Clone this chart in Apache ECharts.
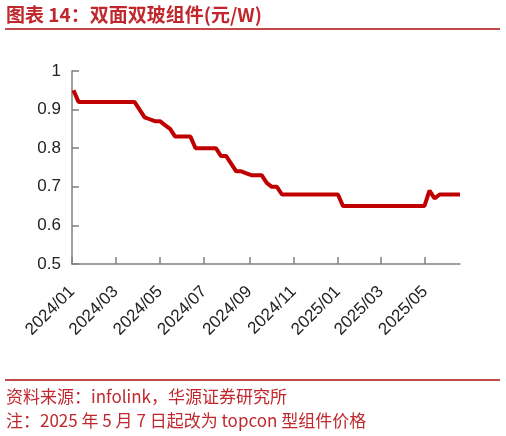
<!DOCTYPE html>
<html>
<head>
<meta charset="utf-8">
<script src="https://cdn.jsdelivr.net/npm/echarts@6/dist/echarts.min.js"></script>
<style>
  html, body { margin: 0; padding: 0; background: #fff; }
  #chart { width: 506px; height: 436px; }
</style>
</head>
<body>
<div id="chart"></div>
<script>
// 周度报价日期
const weekDates = [
  '2024-01-03', '2024-01-10', '2024-01-17', '2024-01-24', '2024-01-31',
  '2024-02-07', '2024-02-14', '2024-02-21', '2024-02-28',
  '2024-03-06', '2024-03-13', '2024-03-20', '2024-03-27',
  '2024-04-03', '2024-04-10', '2024-04-17', '2024-04-24',
  '2024-05-01', '2024-05-08', '2024-05-15', '2024-05-22', '2024-05-29',
  '2024-06-05', '2024-06-12', '2024-06-19', '2024-06-26',
  '2024-07-03', '2024-07-10', '2024-07-17', '2024-07-24', '2024-07-31',
  '2024-08-07', '2024-08-14', '2024-08-21', '2024-08-28',
  '2024-09-04', '2024-09-11', '2024-09-18', '2024-09-25',
  '2024-10-02', '2024-10-09', '2024-10-16', '2024-10-23', '2024-10-30',
  '2024-11-06', '2024-11-13', '2024-11-20', '2024-11-27',
  '2024-12-04', '2024-12-11', '2024-12-18', '2024-12-25',
  '2025-01-01', '2025-01-08', '2025-01-15', '2025-01-22', '2025-01-29',
  '2025-02-05', '2025-02-12', '2025-02-19', '2025-02-26',
  '2025-03-05', '2025-03-12', '2025-03-19', '2025-03-26',
  '2025-04-02', '2025-04-09', '2025-04-16', '2025-04-23', '2025-04-30',
  '2025-05-07', '2025-05-14', '2025-05-21', '2025-05-28',
  '2025-06-04', '2025-06-11', '2025-06-18'
]

// 双面双玻组件价格（元/W）
const prices = [
  0.95, 0.92, 0.92, 0.92, 0.92,
  0.92, 0.92, 0.92, 0.92,
  0.92, 0.92, 0.92, 0.92,
  0.90, 0.88, 0.875, 0.87,
  0.87, 0.86, 0.85, 0.83, 0.83,
  0.83, 0.83, 0.80, 0.80,
  0.80, 0.80, 0.80, 0.78, 0.78,
  0.76, 0.74, 0.74, 0.735,
  0.73, 0.73, 0.73, 0.71,
  0.70, 0.70, 0.68, 0.68, 0.68,
  0.68, 0.68, 0.68, 0.68,
  0.68, 0.68, 0.68, 0.68,
  0.68, 0.65, 0.65, 0.65, 0.65,
  0.65, 0.65, 0.65, 0.65,
  0.65, 0.65, 0.65, 0.65,
  0.65, 0.65, 0.65, 0.65, 0.65,
  0.69, 0.67, 0.68, 0.68,
  0.68, 0.68, 0.68
]

// x轴刻度
const xTickLabels = ['2024/01', '2024/03', '2024/05', '2024/07', '2024/09', '2024/11', '2025/01', '2025/03', '2025/05']
const yTicks = [0.5, 0.6, 0.7, 0.8, 0.9, 1]

const xMin = '2024-01-01'
const xMax = '2025-06-18'

function toTime (s) {
  const p = s.split(/[-/]/)
  return new Date(+p[0], +p[1] - 1, p[2] ? +p[2] : 1).getTime()
}

const tickTimes = xTickLabels.map(toTime)

var chartDom = document.getElementById('chart')
var myChart = echarts.init(chartDom, null, { renderer: 'canvas' })

const red = '#c0282d'
const axisGray = '#808080'

var option = {
  animation: false,
  backgroundColor: '#fff',
  grid: {
    left: 72,
    right: 46,
    top: 71,
    bottom: 172,
    containLabel: false,
    outerBoundsMode: 'none'
  },
  graphic: [
    {
      type: 'text',
      left: 6,
      top: 5,
      style: {
        text: '图表 14：双面双玻组件(元/W)',
        font: 'bold 19px "Noto Sans CJK SC"',
        fill: red
      }
    },
    {
      type: 'line',
      shape: { x1: 5, y1: 29, x2: 500, y2: 29 },
      style: { stroke: '#c44a4a', lineWidth: 2 }
    },
    {
      type: 'line',
      shape: { x1: 5, y1: 380, x2: 500, y2: 380 },
      style: { stroke: '#c44a4a', lineWidth: 2 }
    },
    {
      type: 'text',
      left: 6,
      top: 388,
      style: {
        text: '资料来源：infolink，华源证券研究所',
        font: '17px "Noto Sans CJK SC"',
        fill: red
      }
    },
    {
      type: 'text',
      left: 6,
      top: 412,
      style: {
        text: '注：2025 年 5 月 7 日起改为 topcon 型组件价格',
        font: '17px "Noto Sans CJK SC"',
        fill: red
      }
    }
  ],
  xAxis: {
    type: 'value',
    min: toTime(xMin),
    max: toTime(xMax),
    axisLine: {
      show: true,
      lineStyle: { color: axisGray, width: 1.5 }
    },
    axisTick: {
      show: true,
      inside: true,
      length: 7,
      customValues: tickTimes,
      lineStyle: { color: axisGray, width: 1.5 }
    },
    axisLabel: {
      show: true,
      rotate: 45,
      margin: 25,
      customValues: tickTimes,
      color: '#222',
      fontSize: 17,
      fontFamily: '"Liberation Sans", Arial, sans-serif',
      formatter: function (value) {
        const i = tickTimes.indexOf(value)
        return i !== -1 ? xTickLabels[i] : ''
      }
    },
    splitLine: { show: false }
  },
  yAxis: {
    type: 'value',
    min: yTicks[0],
    max: yTicks[yTicks.length - 1],
    interval: 0.1,
    axisLine: {
      show: true,
      lineStyle: { color: axisGray, width: 1.5 }
    },
    axisTick: {
      show: true,
      inside: true,
      length: 7,
      lineStyle: { color: axisGray, width: 1.5 }
    },
    axisLabel: {
      margin: 11,
      color: '#222',
      fontSize: 17,
      fontFamily: '"Liberation Sans", Arial, sans-serif'
    },
    splitLine: { show: false }
  },
  series: [
    {
      type: 'line',
      data: weekDates.map((d, i) => [toTime(d), prices[i]]),
      showSymbol: false,
      symbol: 'none',
      lineStyle: { color: '#c00000', width: 4 },
      itemStyle: { color: '#c00000' }
    }
  ]
}

option && myChart.setOption(option)
</script>
</body>
</html>
